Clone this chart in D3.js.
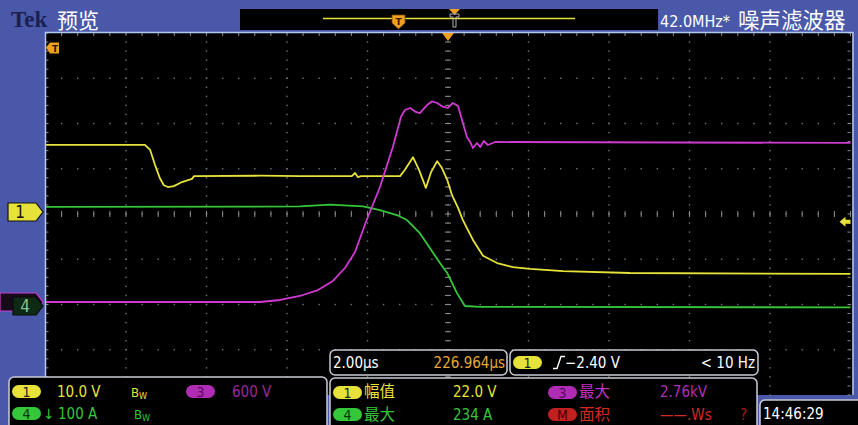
<!DOCTYPE html>
<html>
<head>
<meta charset="utf-8">
<script src="https://cdn.jsdelivr.net/npm/d3@7"></script>
<style>
body { margin: 0; background: #4a58aa; }
svg { display: block; }
</style>
</head>
<body>
<svg id="scope" width="858" height="425"></svg>
<script>
'use strict';

// time in µs relative to the trigger point
const ch1Time = [-10, -7.53, -7.40, -7.28, -7.16, -7.06, -6.96, -6.81, -6.61, -6.36, -6.31, -4.67, -3.68, -2.39, -2.31, -2.24, -2.16, -1.19, -1.07, -0.87, -0.72, -0.55, -0.42, -0.27, -0.15, -0.02, 0.10, 0.25, 0.37, 0.62, 0.87, 1.22, 1.61, 2.04, 2.86, 4.52, 10];
const ch1Volts = [14.6, 14.6, 13.5, 10.2, 7.3, 5.7, 5.3, 5.5, 6.4, 7.1, 7.7, 7.8, 7.7, 7.7, 8.4, 7.5, 7.7, 7.7, 9.1, 11.9, 9.1, 5.1, 8.6, 11.0, 9.5, 6.9, 3.5, 0.7, -2.0, -6.4, -9.9, -11.5, -12.4, -12.8, -13.3, -13.7, -13.9];

const ch3Time = [-10, -4.67, -4.17, -3.68, -3.23, -2.86, -2.56, -2.31, -2.04, -1.69, -1.37, -1.17, -1.07, -0.94, -0.80, -0.70, -0.52, -0.40, -0.27, -0.12, 0, 0.12, 0.25, 0.37, 0.47, 0.55, 0.62, 0.72, 0.80, 0.89, 0.99, 1.17, 10];
const ch3Volts = [13, 13, 40, 93, 172, 292, 464, 676, 1074, 1538, 2069, 2466, 2559, 2586, 2533, 2519, 2625, 2672, 2652, 2599, 2586, 2652, 2612, 2387, 2201, 2135, 2055, 2122, 2069, 2148, 2095, 2135, 2122];

const ch4Time = [-10, -3.68, -2.93, -2.11, -1.69, -1.27, -1.02, -0.70, -0.45, -0.20, -0.02, 0.22, 0.42, 0.80, 10];
const ch4Amps = [219, 220, 224, 220, 212, 201, 190, 161, 128, 95, 73, 29, 0, -2, -3];

const channelScale = [10, 600, 100]; // ch1 V/div, ch3 V/div, ch4 A/div

const leftReadout = ['10.0 V', '600 V', '100 A'];
const measureNames = ['幅值', '最大', '最大', '面积'];
const measureValues = ['22.0 V', '234 A', '2.76kV', '——.Ws'];
const timebaseLabels = ['2.00µs', '226.964µs'];
const triggerLabels = ['−2.40 V', '< 10 Hz'];
const clockLabel = '14:46:29';

const colors = {
	yellow: '#e6e23a',
	green: '#35c63a',
	magenta: '#d03ad2',
	red: '#d42a22',
	orange: '#f0a020',
	frame: '#b4c6f2',
	box: '#c9cbd6'
};

const svg = d3.select('#scope');
const numFont = "'Liberation Sans Narrow', 'DejaVu Sans Condensed', 'Roboto Condensed', sans-serif";
const cjkFont = "'Noto Sans CJK SC', sans-serif";

// screen graticule: 10 x 8 divisions
const plotLeft = 45.5, plotRight = 850.5, plotTop = 33, plotBottom = 395;
const gridX = d3.scaleLinear().domain([0, 10]).range([plotLeft, plotRight]);
const gridY = d3.scaleLinear().domain([0, 8]).range([plotTop, plotBottom]);
const timeX = d3.scaleLinear().domain([-10, 10]).range([plotLeft, plotRight]);
const divPx = gridY(1) - gridY(0);

function channelY(groundY, perDiv) {
	return d3.scaleLinear().domain([0, perDiv]).range([groundY, groundY - divPx]);
}
const y1 = channelY(211, channelScale[0]);
const y3 = channelY(303, channelScale[1]);
const y4 = channelY(306, channelScale[2]);

svg.append('rect').attr('width', 858).attr('height', 425).attr('fill', '#4a58aa');
svg.append('rect')
	.attr('x', plotLeft).attr('y', plotTop)
	.attr('width', plotRight - plotLeft + 2).attr('height', plotBottom - plotTop)
	.attr('fill', '#000');

const grid = svg.append('g').attr('fill', '#747474');
for (let i = 1; i < 10; i++) {
	for (let k = 0; k <= 40; k++) {
		grid.append('rect').attr('x', gridX(i) - 0.7).attr('y', gridY(k / 5) - 0.7).attr('width', 1.4).attr('height', 1.4);
	}
}
for (let j = 1; j < 8; j++) {
	for (let k = 0; k <= 50; k++) {
		grid.append('rect').attr('x', gridX(k / 5) - 0.7).attr('y', gridY(j) - 0.7).attr('width', 1.4).attr('height', 1.4);
	}
}
// centre cross and edge ticks
const ticks = svg.append('g').attr('stroke', '#8a8a8a').attr('stroke-width', 1);
for (let k = 0; k <= 50; k++) {
	const x = gridX(k / 5);
	ticks.append('line').attr('x1', x).attr('x2', x).attr('y1', gridY(4) - 3).attr('y2', gridY(4) + 3);
	ticks.append('line').attr('x1', x).attr('x2', x).attr('y1', plotTop).attr('y2', plotTop + 3);
}
for (let k = 0; k <= 40; k++) {
	const y = gridY(k / 5);
	ticks.append('line').attr('x1', gridX(5) - 3).attr('x2', gridX(5) + 3).attr('y1', y).attr('y2', y);
	ticks.append('line').attr('x1', plotLeft).attr('x2', plotLeft + 3).attr('y1', y).attr('y2', y);
	ticks.append('line').attr('x1', plotRight - 3).attr('x2', plotRight).attr('y1', y).attr('y2', y);
}

// traces
function trace(times, values, yScale, color) {
	const line = d3.line()
		.x((d, i) => timeX(times[i]))
		.y(d => yScale(d));
	svg.append('path')
		.attr('d', line(values))
		.attr('fill', 'none')
		.attr('stroke', color)
		.attr('stroke-width', 1.8)
		.attr('stroke-linejoin', 'round');
}
trace(ch4Time, ch4Amps, y4, colors.green);
trace(ch1Time, ch1Volts, y1, colors.yellow);
trace(ch3Time, ch3Volts, y3, colors.magenta);

// plot frame
svg.append('path')
	.attr('d', `M${plotLeft},${plotBottom} V${plotTop - 0.5} H${plotRight + 2.5} V${plotBottom}`)
	.attr('fill', 'none')
	.attr('stroke', colors.frame)
	.attr('stroke-width', 1.5);

// trigger position markers
svg.append('path')
	.attr('d', `M${timeX(0) - 6},${plotTop} h12 l-6,8 z`)
	.attr('fill', colors.orange);
svg.append('path')
	.attr('d', 'M46,47.5 l4,-5 h9 v11 h-9 z')
	.attr('fill', colors.orange);
svg.append('text').attr('x', 55).attr('y', 52).attr('text-anchor', 'middle')
	.attr('font-family', 'DejaVu Sans').attr('font-weight', 'bold').attr('font-size', 9).attr('fill', '#2a1500').text('T');

// trigger level arrow on right edge
const trigY = y1(-2.4);
svg.append('path')
	.attr('d', `M${plotRight - 11},${trigY} l6,-5 v3 h5 v4 h-5 v3 z`)
	.attr('fill', colors.yellow);

// channel markers on left
function marker(x0, yc, fill, stroke, textColor, label) {
	svg.append('path')
		.attr('d', `M${x0},${yc - 9} H36 L43,${yc} L36,${yc + 9} H${x0} Z`)
		.attr('fill', fill).attr('stroke', stroke).attr('stroke-width', 1.2);
	if (label) {
		svg.append('text').attr('x', x0 + 12).attr('y', yc + 6)
			.attr('font-family', numFont).attr('font-size', 17).attr('fill', textColor).attr('text-anchor', 'middle').text(label);
	}
}
marker(8, 212, colors.yellow, '#111', '#111', '1');
marker(0, 302, '#140a18', colors.magenta, colors.magenta, '');
marker(13, 306, '#0e2a14', '#0a0a0a', '#8cc08c', '4');

// top bar
svg.append('text').attr('x', 11).attr('y', 27)
	.attr('font-family', "'Liberation Serif', serif").attr('font-weight', 'bold').attr('font-size', 23)
	.attr('fill', '#1a2150').text('Tek');
svg.append('text').attr('x', 57).attr('y', 28)
	.attr('font-family', cjkFont).attr('font-size', 21).attr('fill', '#fff').text('预览');
svg.append('rect').attr('x', 240).attr('y', 9).attr('width', 418).attr('height', 21).attr('fill', '#000');
svg.append('line').attr('x1', 323).attr('x2', 575).attr('y1', 18.5).attr('y2', 18.5)
	.attr('stroke', colors.yellow).attr('stroke-width', 1.5);
svg.append('path')
	.attr('d', 'M392,15 h13 v8 l-6.5,6 l-6.5,-6 z')
	.attr('fill', colors.orange).attr('stroke', '#7a4a00').attr('stroke-width', 0.8);
svg.append('text').attr('x', 398.5).attr('y', 25).attr('text-anchor', 'middle')
	.attr('font-family', 'DejaVu Sans').attr('font-weight', 'bold').attr('font-size', 9).attr('fill', '#3a1a00').text('T');
svg.append('path').attr('d', 'M449,9 h11 l-5.5,6 z').attr('fill', colors.orange);
svg.append('path')
	.attr('d', 'M450,14 h9 v3 h-3 v10 h-3 v-10 h-3 z')
	.attr('fill', 'none').attr('stroke', '#b0b0b0').attr('stroke-width', 1);
svg.append('text').attr('x', 660).attr('y', 27)
	.attr('font-family', numFont).attr('font-size', 16).attr('fill', '#fff').text('42.0MHz*');
svg.append('text').attr('x', 738).attr('y', 28)
	.attr('font-family', cjkFont).attr('font-size', 21.5).attr('fill', '#fff').text('噪声滤波器');

// bottom panels
function box(x, y, w, h) {
	svg.append('rect').attr('x', x).attr('y', y).attr('width', w).attr('height', h).attr('rx', 5)
		.attr('fill', '#000').attr('stroke', colors.box).attr('stroke-width', 1.5);
}
box(9, 377, 318, 60);
box(330, 378, 427, 60);
box(330, 350, 177, 25);
box(510, 350, 248, 25);
box(760, 400, 104, 30);

function pill(x, y, fill, textColor, label) {
	svg.append('rect').attr('x', x).attr('y', y).attr('width', 29).attr('height', 13).attr('rx', 6.5).attr('fill', fill);
	svg.append('text').attr('x', x + 14.5).attr('y', y + 11.5).attr('text-anchor', 'middle')
		.attr('font-family', numFont).attr('font-size', 14).attr('fill', textColor).text(label);
}
function text(x, y, str, color, size, font, anchor) {
	return svg.append('text').attr('x', x).attr('y', y)
		.attr('font-family', font || numFont).attr('font-size', size)
		.attr('text-anchor', anchor || 'start').attr('fill', color).text(str);
}
function bw(x, y, color) {
	const t = text(x, y, 'B', color, 13);
	t.append('tspan').attr('font-size', 9).attr('dy', 2).text('W');
}

pill(12, 385, colors.yellow, '#222', '1');
text(57, 397, leftReadout[0], colors.yellow, 15);
bw(131, 397, colors.yellow);
pill(186, 385, '#b02cb4', '#5a0a60', '3');
text(232, 397, leftReadout[1], '#9a2a9c', 15);
pill(12, 407, colors.green, '#0a3a0a', '4');
text(43, 419, '↓', colors.green, 14, 'DejaVu Sans');
text(58, 419, leftReadout[2], colors.green, 15);
bw(134, 419, colors.green);

text(333, 368, timebaseLabels[0], '#fff', 15);
text(505, 368, timebaseLabels[1], '#e8a838', 15, null, 'end');
pill(513, 356, colors.yellow, '#222', '1');
svg.append('path').attr('d', 'M553,368.5 h4 l4,-12 h4').attr('fill', 'none').attr('stroke', '#fff').attr('stroke-width', 1.4);
text(565, 368, triggerLabels[0], '#fff', 15);
text(755, 368, triggerLabels[1], '#fff', 15, null, 'end');

pill(333, 386, colors.yellow, '#222', '1');
text(364, 397, measureNames[0], colors.yellow, 15.5, cjkFont);
text(453, 397, measureValues[0], colors.yellow, 15);
pill(333, 408, colors.green, '#0a3a0a', '4');
text(364, 420, measureNames[1], colors.green, 15.5, cjkFont);
text(453, 420, measureValues[1], colors.green, 15);
pill(548, 386, '#b02cb4', '#5a0a60', '3');
text(579, 397, measureNames[2], '#c030c4', 15.5, cjkFont);
text(660, 397, measureValues[2], '#b030b4', 15);
pill(548, 408, '#c02020', '#4a0000', 'M');
text(579, 420, measureNames[3], colors.red, 15.5, cjkFont);
text(660, 420, measureValues[3], colors.red, 15);
text(740, 420, '?', '#a01c18', 15);

text(763, 419, clockLabel, '#fff', 15);
</script>
</body>
</html>
